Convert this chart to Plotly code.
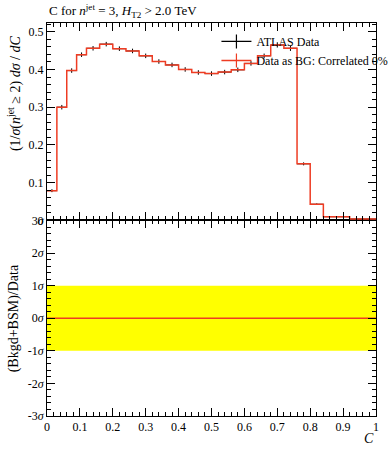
import plotly.graph_objects as go

# ---- data ----
bin_edges = [0.0, 0.03, 0.06, 0.09, 0.12, 0.16, 0.20, 0.24, 0.28, 0.32, 0.36, 0.40,
             0.44, 0.48, 0.52, 0.56, 0.60, 0.64, 0.68, 0.72, 0.76, 0.80, 0.84, 0.92, 1.0]
atlas_values = [0.079, 0.300, 0.397, 0.439, 0.456, 0.467, 0.455, 0.449, 0.436, 0.421,
                0.412, 0.400, 0.392, 0.389, 0.393, 0.399, 0.416, 0.436, 0.465, 0.456,
                0.150, 0.043, 0.010, 0.004]
atlas_errors = [0.004, 0.006, 0.006, 0.006, 0.006, 0.006, 0.006, 0.006, 0.006, 0.006,
                0.006, 0.006, 0.006, 0.006, 0.006, 0.006, 0.006, 0.006, 0.007, 0.007,
                0.004, 0.002, 0.001, 0.001]
bg_values = list(atlas_values)
sigma_values = [0.0] * len(atlas_values)
band_lo, band_hi = -1.0, 1.0
top_ticks = [0, 0.1, 0.2, 0.3, 0.4, 0.5]
top_ticklabels = ["0", "0.1", "0.2", "0.3", "0.4", "0.5"]
sig_ticks = [-3, -2, -1, 0, 1, 2, 3]
sig_ticklabels = ["-3<i>σ</i>", "-2<i>σ</i>", "-1<i>σ</i>", "0<i>σ</i>", "1<i>σ</i>", "2<i>σ</i>", "3<i>σ</i>"]
x_ticks = [0, 0.1, 0.2, 0.3, 0.4, 0.5, 0.6, 0.7, 0.8, 0.9, 1.0]
x_ticklabels = ["0", "0.1", "0.2", "0.3", "0.4", "0.5", "0.6", "0.7", "0.8", "0.9", "1"]

centers = [(a + b) / 2 for a, b in zip(bin_edges[:-1], bin_edges[1:])]
halfw = [(b - a) / 2 for a, b in zip(bin_edges[:-1], bin_edges[1:])]

RED = "rgb(238,60,35)"
FONT = "Liberation Serif"

fig = go.Figure()

# bottom panel: yellow band
fig.add_trace(go.Scatter(x=[bin_edges[0], bin_edges[-1]], y=[band_hi, band_hi], mode="lines",
                         line=dict(width=0, color="yellow"), showlegend=False, hoverinfo="skip",
                         xaxis="x", yaxis="y"))
fig.add_trace(go.Scatter(x=[bin_edges[0], bin_edges[-1]], y=[band_lo, band_lo], mode="lines",
                         line=dict(width=0, color="yellow"), fill="tonexty", fillcolor="#ffff00",
                         showlegend=False, hoverinfo="skip", xaxis="x", yaxis="y"))
fig.add_trace(go.Scatter(x=bin_edges, y=sigma_values + [sigma_values[-1]], mode="lines",
                         line=dict(color=RED, width=1.5, shape="hv"), showlegend=False,
                         hoverinfo="skip", xaxis="x", yaxis="y"))

# top panel: data points
fig.add_trace(go.Scatter(x=centers, y=atlas_values, mode="markers",
                         marker=dict(size=1, color="black"),
                         error_x=dict(type="data", array=halfw, color="black", thickness=1, width=0),
                         error_y=dict(type="data", array=atlas_errors, color="black", thickness=1, width=0),
                         showlegend=False, xaxis="x2", yaxis="y2"))
# top panel: background histogram
fig.add_trace(go.Scatter(x=bin_edges, y=bg_values + [bg_values[-1]], mode="lines",
                         line=dict(color=RED, width=1.5, shape="hv"), showlegend=False,
                         xaxis="x2", yaxis="y2"))

# legend entries
fig.add_trace(go.Scatter(x=[None], y=[None], mode="lines+markers", name="ATLAS Data",
                         line=dict(color="black", width=1.2),
                         marker=dict(symbol="line-ns-open", size=10, color="black",
                                     line=dict(width=1.2, color="black")),
                         xaxis="x2", yaxis="y2"))
fig.add_trace(go.Scatter(x=[None], y=[None], mode="lines+markers", name="Data as BG: Correlated 0%",
                         line=dict(color=RED, width=1.5),
                         marker=dict(symbol="line-ns-open", size=10, color=RED,
                                     line=dict(width=1.2, color=RED)),
                         xaxis="x2", yaxis="y2"))

axis_common = dict(showline=True, linecolor="black", linewidth=1, mirror="ticks",
                   ticks="inside", ticklen=8, tickcolor="black", tickwidth=1,
                   showgrid=False, zeroline=False,
                   tickfont=dict(family=FONT, size=12, color="black"))

split = 0.4975
fig.update_layout(
    width=389, height=450,
    margin=dict(l=47, r=13, t=23, b=34, autoexpand=False),
    paper_bgcolor="white", plot_bgcolor="white",
    font=dict(family=FONT, size=13, color="black"),
    xaxis=dict(domain=[0, 1], range=[0, 1], anchor="y", tickvals=x_ticks, ticktext=x_ticklabels,
               minor=dict(ticks="inside", ticklen=4, dtick=0.02, tickcolor="black"),
               **axis_common),
    yaxis=dict(domain=[0, split], range=[-3, 3], anchor="x", tickvals=sig_ticks, ticktext=sig_ticklabels,
               minor=dict(ticks="inside", ticklen=4, dtick=0.2, tickcolor="black"),
               **axis_common),
    xaxis2=dict(domain=[0, 1], range=[0, 1], anchor="y2", tickvals=x_ticks, showticklabels=False,
                minor=dict(ticks="inside", ticklen=4, dtick=0.02, tickcolor="black"),
                **axis_common),
    yaxis2=dict(domain=[split, 1], range=[0, 0.523], anchor="x2", tickvals=top_ticks, ticktext=top_ticklabels,
                minor=dict(ticks="inside", ticklen=4, dtick=0.02, tickcolor="black"),
                **axis_common),
    legend=dict(x=0.515, y=0.99, xanchor="left", yanchor="top", bgcolor="rgba(0,0,0,0)",
                font=dict(family=FONT, size=12), tracegroupgap=0, itemwidth=30,
                traceorder="normal"),
    showlegend=True,
)

fig.add_annotation(text="C for <i>n</i><sup>jet</sup> = 3, <i>H</i><sub>T2</sub> > 2.0 TeV",
                   xref="paper", yref="paper", x=0.0, y=1.0, xanchor="left", yanchor="bottom",
                   yshift=1, showarrow=False, font=dict(family=FONT, size=13))
fig.add_annotation(text="(1/<i>σ</i>(<i>n</i><sup>jet</sup> ≥ 2) <i>dσ</i> / <i>dC</i>",
                   xref="paper", yref="paper", x=-0.1, y=1.0, xanchor="center", yanchor="top",
                   yshift=-10, textangle=-90, showarrow=False, font=dict(family=FONT, size=14))
fig.add_annotation(text="(Bkgd+BSM)/Data",
                   xref="paper", yref="paper", x=-0.1, y=split / 2, xanchor="center", yanchor="middle",
                   textangle=-90, showarrow=False, font=dict(family=FONT, size=14))
fig.add_annotation(text="<i>C</i>", xref="paper", yref="paper", x=1.0, y=0, xanchor="right",
                   yanchor="top", yshift=-13, showarrow=False, font=dict(family=FONT, size=14))

fig.write_html("out.html", config={"displayModeBar": False},
               post_script="document.body.style.margin='0';document.body.style.overflow='hidden';")
